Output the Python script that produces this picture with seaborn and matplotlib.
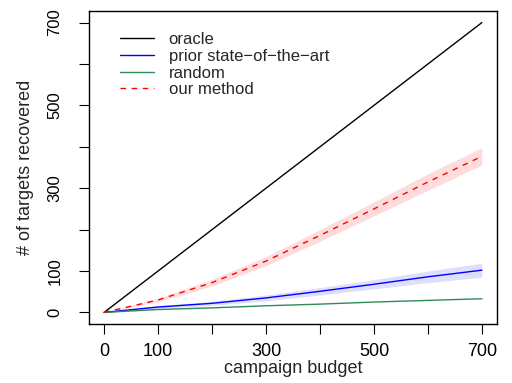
import numpy as np
import pandas as pd
import matplotlib
matplotlib.use("Agg")
import matplotlib.pyplot as plt
import seaborn as sns

# values
budget = [0, 100, 200, 300, 400, 500, 600, 700]
oracle = [0, 100, 200, 300, 400, 500, 600, 700]
prior = [0, 13, 22, 35, 51, 68, 86, 102]
prior_lo = [0, 10, 17, 28, 42, 57, 72, 85]
prior_hi = [0, 16, 27, 42, 60, 79, 100, 119]
random_ = [0, 7, 11, 16, 20, 25, 29, 33]
ours = [0, 30, 72, 124, 186, 250, 315, 377]
ours_lo = [0, 26, 64, 113, 172, 233, 295, 356]
ours_hi = [0, 34, 80, 135, 200, 267, 335, 398]

x_ticks = [0, 100, 200, 300, 400, 500, 600, 700]
x_labels = ["0", "100", "", "300", "", "500", "", "700"]
y_ticks = [0, 100, 200, 300, 400, 500, 600, 700]
y_labels = ["0", "100", "", "300", "", "500", "", "700"]

sns.set_style("ticks")
plt.rcParams["font.family"] = ["Liberation Sans", "DejaVu Sans"]

fig = plt.figure(figsize=(5.12, 3.83), dpi=100)
ax = fig.add_axes([89 / 512, 1 - 324 / 383, 408 / 512, 313 / 383])

df = pd.DataFrame({"budget": budget, "oracle": oracle, "prior": prior,
                   "random": random_, "ours": ours})

ax.fill_between(budget, prior_lo, prior_hi, color="#dedeff", lw=0)
ax.fill_between(budget, ours_lo, ours_hi, color="#ffdcdc", lw=0)

sns.lineplot(data=df, x="budget", y="oracle", color="black", lw=1, ax=ax, label="oracle")
sns.lineplot(data=df, x="budget", y="prior", color="blue", lw=1, ax=ax, label="prior state\u2212of\u2212the\u2212art")
sns.lineplot(data=df, x="budget", y="random", color="seagreen", lw=1, ax=ax, label="random")
sns.lineplot(data=df, x="budget", y="ours", color="red", lw=1, ax=ax, label="our method")
ax.lines[-1].set_dashes([4, 4])

ax.set_xlim(-28, 728)
ax.set_ylim(-28, 728)
ax.set_xticks(x_ticks)
ax.set_xticklabels(x_labels, fontsize=13)
ax.set_yticks(y_ticks)
ax.set_yticklabels(y_labels, rotation=90, va="center", fontsize=12)
ax.tick_params(axis="both", direction="out", length=7, width=0.8, color="black",
               labelcolor="black")
ax.tick_params(axis="x", pad=7)
ax.tick_params(axis="y", pad=12)
for s in ax.spines.values():
    s.set_visible(True)
    s.set_color("black")
    s.set_linewidth(1)

ax.set_xlabel("campaign budget", fontsize=13, labelpad=0)
ax.set_ylabel("# of targets recovered", fontsize=13, labelpad=10)

leg = ax.legend(loc="upper left", bbox_to_anchor=(0.04, 0.98), frameon=False,
                fontsize=12, handlelength=2.0, handletextpad=0.9, labelspacing=0.1)

fig.savefig("out.png", dpi=100)
